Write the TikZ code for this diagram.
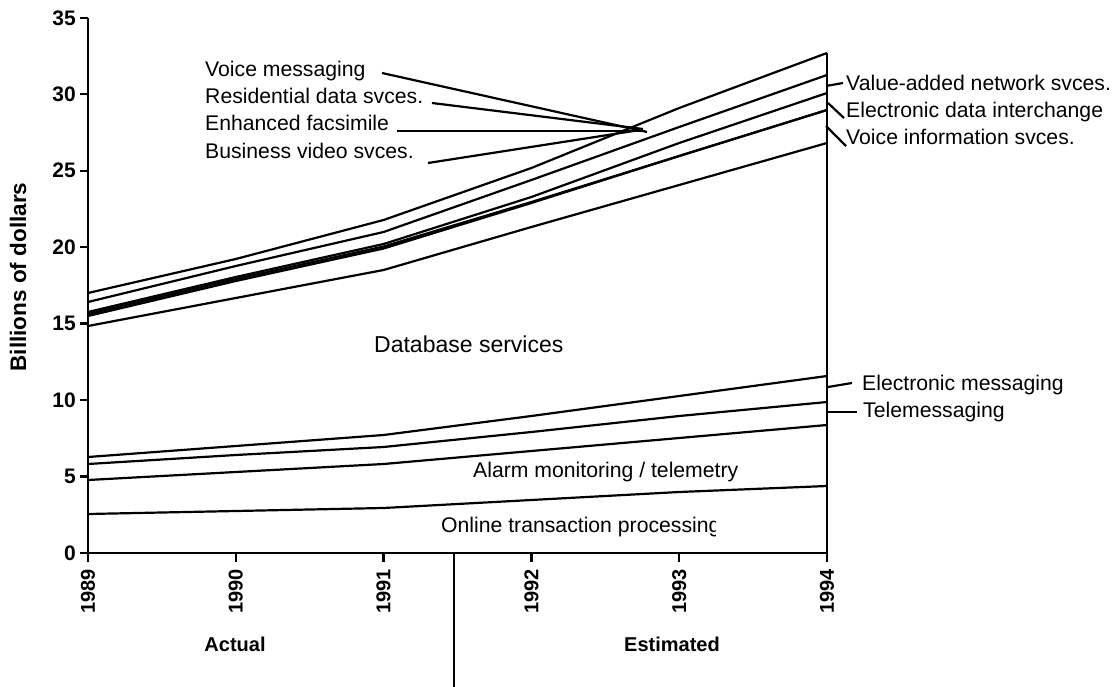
\documentclass[tikz,border=0pt]{standalone}
\usepackage{fontspec}
\setmainfont{Liberation Sans}
\begin{document}
\begin{tikzpicture}[x=1pt,y=-1pt,
  series/.style={line width=2.2pt,line join=round},
  axisline/.style={line width=2.4pt},
  leader/.style={line width=2.2pt},
  lab/.style={font=\fontsize{21.2}{24}\selectfont, inner sep=0pt, anchor=base west},
  blab/.style={font=\fontsize{20}{24}\selectfont\bfseries, inner sep=0pt}]
\useasboundingbox (0,0) rectangle (1116,687);

% axes
\coordinate (o) at (88,553);
\coordinate (ytop) at (88,18);
\coordinate (xend) at (827,553);
\coordinate (rtop) at (827,53);
\coordinate (rbot) at (827,562);
\draw[axisline] (ytop) -- (o) -- (xend);
\draw[axisline] (rtop) -- (rbot);

\foreach \v in {0,5,...,35} {
  \pgfmathsetmacro\yy{553-15.29*\v}
  \draw[axisline] (80,\yy) -- (88,\yy);
  \node[blab,font=\fontsize{21}{24}\selectfont\bfseries,anchor=east] (yt\v) at (76,\yy) {\v};
}
\foreach \i/\yr in {0/1989,1/1990,2/1991,3/1992,4/1993,5/1994} {
  \pgfmathsetmacro\xx{88+147.8*\i}
  \draw[axisline] (\xx,553) -- (\xx,562);
  \node[blab,rotate=90,anchor=east] (yr\yr) at (\xx,569) {\yr};
}
\node[blab,font=\fontsize{22.5}{26}\selectfont\bfseries,rotate=90] (ytitle) at (18,277) {Billions of dollars};
\node[blab] (actual) at (235,644) {Actual};
\node[blab] (estim) at (672,644) {Estimated};
\coordinate (divtop) at (454,553);
\coordinate (divbot) at (454,687);
\draw[line width=2pt] (divtop) -- (divbot);

% upper series
\draw[series] (88,293) -- (235.8,259) -- (383.6,220) -- (531.4,168) -- (679.2,108) -- (827,53);
\draw[series] (88,302) -- (235.8,266) -- (383.6,232) -- (531.4,180) -- (679.2,127) -- (827,75);
\draw[series] (88,312) -- (235.8,277) -- (383.6,244) -- (531.4,197) -- (679.2,143) -- (827,93);
\draw[series] (88,314) -- (235.8,279) -- (383.6,246.5) -- (531.4,202) -- (679.2,156) -- (827,110);
\draw[series] (88,316) -- (235.8,281) -- (383.6,248.5) -- (531.4,203) -- (679.2,156) -- (827,110);
\draw[series] (88,326) -- (235.8,298) -- (383.6,270) -- (531.4,227) -- (679.2,185) -- (827,143);

% lower series
\draw[series] (88,457) -- (235.8,446) -- (383.6,435) -- (531.4,416) -- (679.2,396) -- (827,376);
\draw[series] (88,464) -- (235.8,455) -- (383.6,447) -- (531.4,432) -- (679.2,416) -- (827,402);
\draw[series] (88,480) -- (235.8,472) -- (383.6,464) -- (531.4,451) -- (679.2,438) -- (827,425);
\draw[series] (88,514) -- (235.8,511) -- (383.6,508) -- (531.4,500) -- (679.2,492) -- (827,486);

% left labels with leaders
\node[lab] (vm) at (205,77) {Voice messaging};
\node[lab] (rds) at (205,104) {Residential data svces.};
\node[lab] (ef) at (205,131) {Enhanced facsimile};
\node[lab] (bvs) at (205,159) {Business video svces.};
\coordinate (vmA) at (382,73);   \coordinate (vmB) at (647,132);
\coordinate (rdsA) at (432,103); \coordinate (rdsB) at (643,129);
\coordinate (efA) at (397,131);  \coordinate (efB) at (645,131);
\coordinate (bvsA) at (428,163); \coordinate (bvsB) at (640,130);
\draw[leader] (vmA) -- (vmB);
\draw[leader] (rdsA) -- (rdsB);
\draw[leader] (efA) -- (efB);
\draw[leader] (bvsA) -- (bvsB);

% right labels with leaders
\node[lab] (van) at (846,91) {Value-added network svces.};
\node[lab] (edi) at (846,118) {Electronic data interchange};
\node[lab] (vis) at (846,145) {Voice information svces.};
\node[lab] (em) at (862,390) {Electronic messaging};
\node[lab] (tm) at (863,417) {Telemessaging};
\coordinate (vanA) at (826,86);  \coordinate (vanB) at (843,83);
\coordinate (ediA) at (828,103); \coordinate (ediB) at (844,118);
\coordinate (visA) at (826,126); \coordinate (visB) at (846,146);
\coordinate (emA) at (828,387);  \coordinate (emB) at (852,383);
\coordinate (tmA) at (826,412);  \coordinate (tmB) at (857,412);
\draw[leader] (vanA) -- (vanB);
\draw[leader] (ediA) -- (ediB);
\draw[leader] (visA) -- (visB);
\draw[leader] (emA) -- (emB);
\draw[leader] (tmA) -- (tmB);

% area labels
\node[lab,font=\fontsize{23}{26}\selectfont] (db) at (374,352) {Database services};
\node[lab] (alarm) at (473,477) {Alarm monitoring / telemetry};
\begin{scope}
  \clip (0,0) rectangle (715,687);
  \node[lab] (otp) at (441,532) {Online transaction processing};
\end{scope}
\end{tikzpicture}
\end{document}
